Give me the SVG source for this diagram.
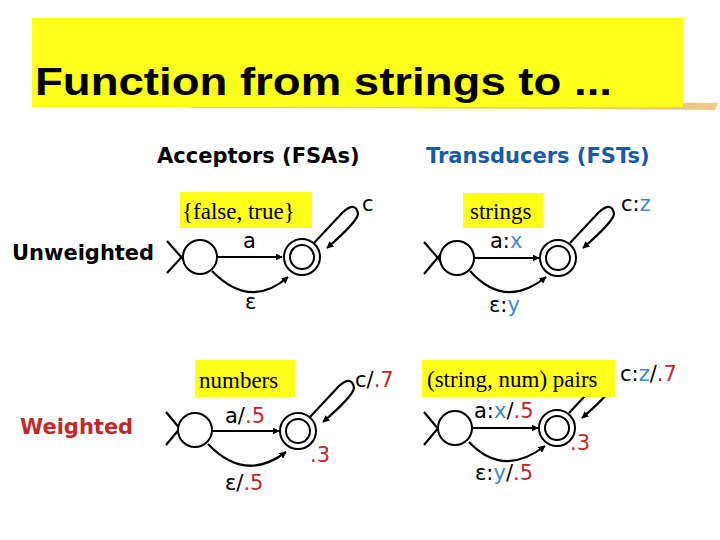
<svg xmlns="http://www.w3.org/2000/svg" width="720" height="540" viewBox="0 0 720 540">
<defs>
<marker id="ah" viewBox="0 0 10 10" refX="9" refY="5" markerWidth="7" markerHeight="7" orient="auto" markerUnits="userSpaceOnUse"><path d="M0,0 L10,5 L0,10 z" fill="#000"/></marker>
<style>
.st{fill:#fff;stroke:#000;stroke-width:2}
.ln{fill:none;stroke:#000;stroke-width:2.2}
.ar{fill:none;stroke:#000;stroke-width:2.2;marker-end:url(#ah)}
.lb{font-family:"DejaVu Sans",sans-serif;font-size:21px;fill:#000}
.tm{font-family:"Liberation Serif",serif;font-size:23px;fill:#000}
.bx{fill:#ffff1a}
.b{fill:#3d8ad0}
.r{fill:#c0282b}
.hd{font-family:"DejaVu Sans",sans-serif;font-weight:bold;font-size:21px}
</style>
</defs>
<rect width="720" height="540" fill="#fff"/>
<g id="title">
<path d="M190,104 Q450,100 718,103 L715,110 Q450,108 190,108 z" fill="#e8b050" opacity="0.7"/>
<rect x="32" y="18" width="651" height="89" fill="#ffff1a"/>
<text x="35" y="95" font-family="Liberation Sans,Arial,sans-serif" font-weight="bold" font-size="39" textLength="577" lengthAdjust="spacingAndGlyphs" fill="#000">Function from strings to ...</text>
</g>
<g id="headers">
<text x="157" y="163" class="hd" fill="#000">Acceptors (FSAs)</text>
<text x="426" y="163" class="hd" fill="#1a5aa0">Transducers (FSTs)</text>
<text x="12" y="260" class="hd" fill="#000">Unweighted</text>
<text x="20" y="434" class="hd" fill="#c0282b">Weighted</text>
</g>
<g id="connectors">
<path class="ln" d="M167,241 L190,267 M167,273 L190,248"/>
<path class="ar" d="M218,257 L282,257"/>
<path class="ar" d="M212,271 Q250,310 288,277"/>
<path class="ar" d="M314,243 L343,212 Q356,201 358,214 Q357,222 327,248"/>
<path class="ln" d="M166,412 L186,436 M166,445 L186,421"/>
<path class="ar" d="M213,431 L279,431"/>
<path class="ar" d="M208,444 Q245,483 286,452"/>
<path class="ar" d="M310,417 L339,386 Q352,375 354,388 Q353,396 323,422"/>
<path class="ln" d="M424,242 L445,266 M424,274 L445,249"/>
<path class="ar" d="M474,258 L539,258"/>
<path class="ar" d="M470,271 Q505,310 546,277"/>
<path class="ar" d="M570,243 L599,212 Q612,201 614,214 Q613,222 583,248"/>
<path class="ln" d="M424,412 L444,436 M424,445 L444,421"/>
<path class="ar" d="M472,428 L538,428"/>
<path class="ar" d="M469,442 Q503,478 545,446"/>
<path class="ar" d="M569,413 L598,382 Q611,371 613,384 Q612,392 582,418"/>
</g>
<g id="fsa-u">
<circle class="st" cx="200" cy="257" r="17"/>
<circle class="st" cx="302" cy="257" r="18"/><circle class="st" cx="302" cy="257" r="12"/>
<rect class="bx" x="180" y="192" width="132" height="36"/>
<text class="tm" x="182" y="219">{false, true}</text>
<text class="lb" x="243" y="248">a</text>
<text class="lb" x="362" y="211">c</text>
<text class="lb" x="245" y="309">ε</text>
</g>
<g id="fsa-w">
<circle class="st" cx="195" cy="430" r="17"/>
<circle class="st" cx="298" cy="431" r="18"/><circle class="st" cx="298" cy="431" r="12"/>
<rect class="bx" x="195" y="360" width="100" height="37"/>
<text class="tm" x="199" y="388">numbers</text>
<text class="lb" x="225" y="423">a/<tspan class="r">.5</tspan></text>
<text class="lb" x="355" y="387">c/<tspan class="r">.7</tspan></text>
<text class="lb r" x="310" y="462">.3</text>
<text class="lb" x="225" y="490">ε/<tspan class="r">.5</tspan></text>
</g>
<g id="fst-u">
<circle class="st" cx="457" cy="258" r="17"/>
<circle class="st" cx="558" cy="258" r="18"/><circle class="st" cx="558" cy="258" r="12"/>
<rect class="bx" x="463" y="193" width="80" height="35"/>
<text class="tm" x="470" y="219">strings</text>
<text class="lb" x="490" y="248">a:<tspan class="b">x</tspan></text>
<text class="lb" x="621" y="211">c:<tspan class="b">z</tspan></text>
<text class="lb" x="489" y="312">ε:<tspan class="b">y</tspan></text>
</g>
<g id="fst-w">
<circle class="st" cx="455" cy="428" r="17"/>
<circle class="st" cx="557" cy="428" r="18"/><circle class="st" cx="557" cy="428" r="12"/>
<rect class="bx" x="422" y="360" width="193" height="37"/>
<text class="tm" x="427" y="387">(string, num) pairs</text>
<text class="lb" x="474" y="418">a:<tspan class="b">x</tspan>/<tspan class="r">.5</tspan></text>
<text class="lb" x="620" y="381">c:<tspan class="b">z</tspan>/<tspan class="r">.7</tspan></text>
<text class="lb r" x="570" y="450">.3</text>
<text class="lb" x="475" y="480">ε:<tspan class="b">y</tspan>/<tspan class="r">.5</tspan></text>
</g>
</svg>
